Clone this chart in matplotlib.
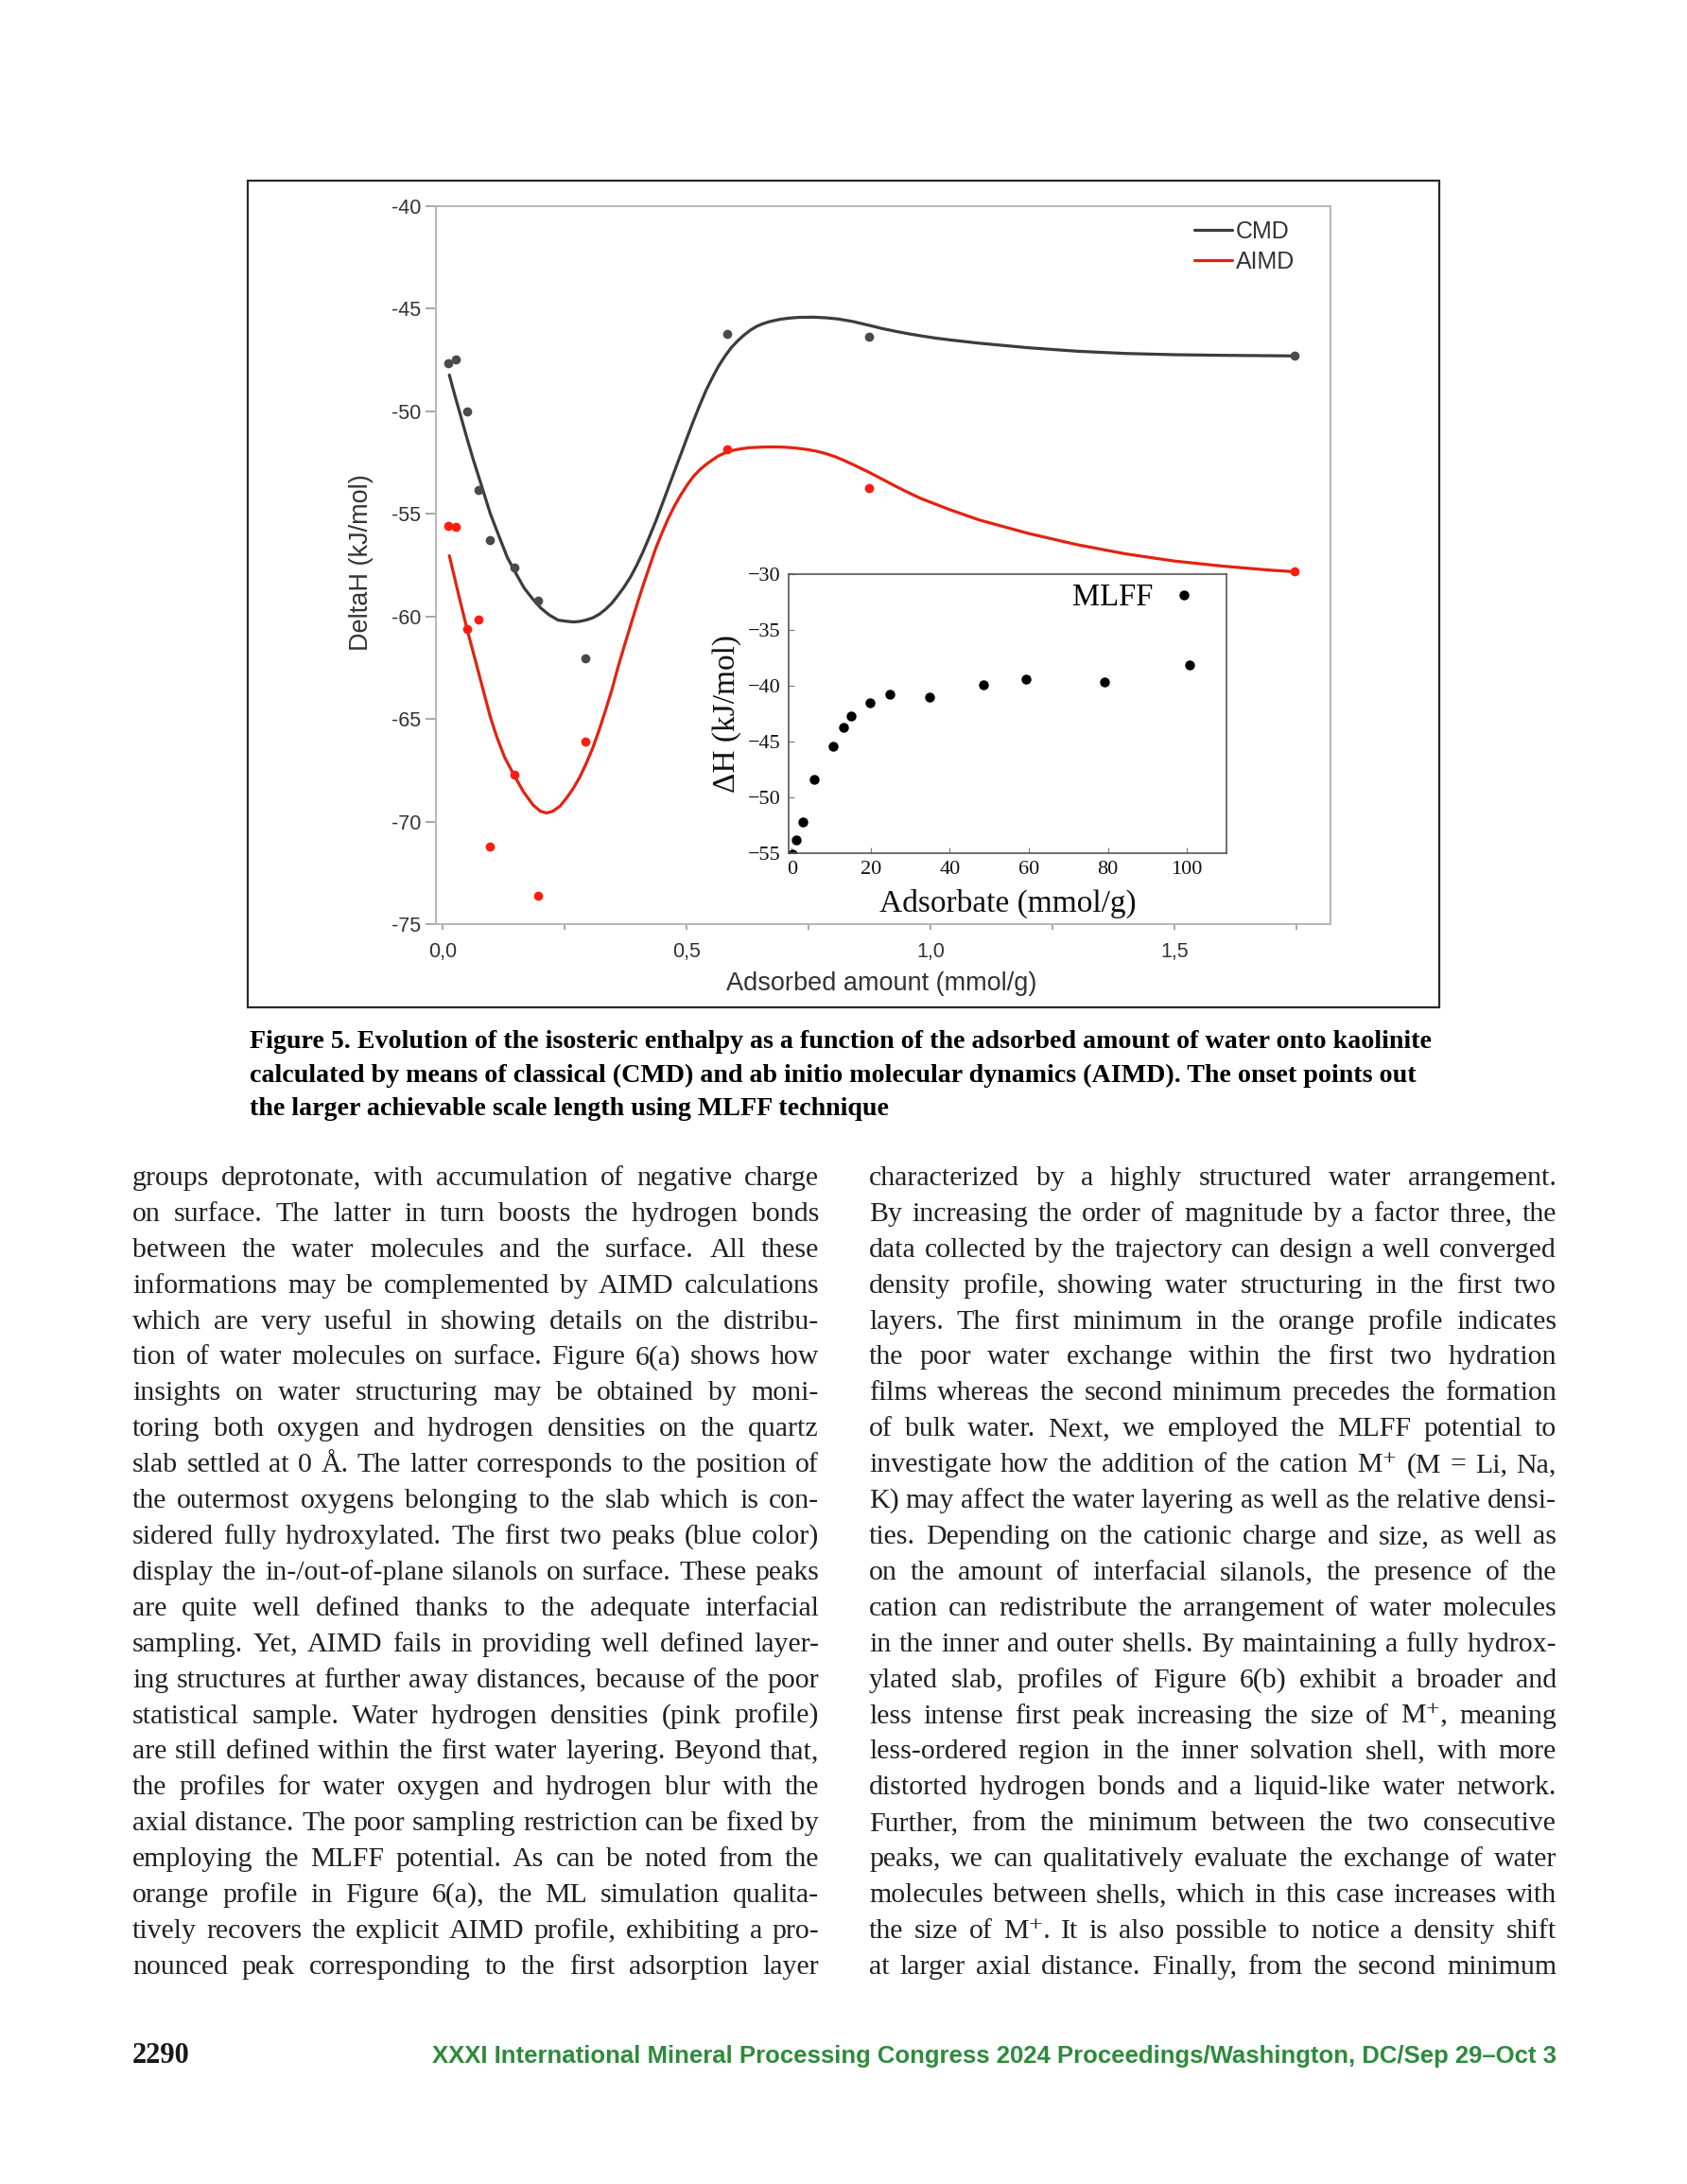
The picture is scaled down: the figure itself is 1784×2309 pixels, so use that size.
import matplotlib
matplotlib.use("Agg")
import matplotlib.pyplot as plt
from matplotlib import font_manager
from matplotlib.font_manager import FontProperties
from matplotlib.patches import Rectangle

# ─── Page geometry (pixels) ─────────────────────────────────────────────────
W, H = 1784, 2309
DPI = 100

# ─── Main chart data ────────────────────────────────────────────────────────
cmd_x = [0.0105, 0.026, 0.0495, 0.0737, 0.097, 0.1465, 0.194, 0.292, 0.582, 0.874, 1.747]
cmd_y = [-47.65, -47.49, -50.0, -53.83, -56.27, -57.62, -59.23, -62.03, -46.22, -46.38, -47.3]

aimd_x = [0.0105, 0.026, 0.0495, 0.0737, 0.097, 0.1465, 0.194, 0.292, 0.582, 0.874, 1.747]
aimd_y = [-55.6, -55.65, -60.6, -60.15, -71.2, -67.7, -73.6, -66.1, -51.85, -53.75, -57.8]

# fitted curves
cmd_fit_x = [0.013, 0.024, 0.036, 0.049, 0.062, 0.08, 0.097, 0.115, 0.132, 0.15,
             0.166, 0.184, 0.201, 0.218, 0.236, 0.255, 0.268, 0.281, 0.294, 0.307,
             0.32, 0.333, 0.346, 0.358, 0.371, 0.384, 0.397, 0.41, 0.423, 0.436,
             0.449, 0.462, 0.475, 0.488, 0.501, 0.514, 0.527, 0.54, 0.553, 0.565,
             0.578, 0.591, 0.604, 0.617, 0.63, 0.643, 0.656, 0.669, 0.69, 0.708,
             0.73, 0.759, 0.785, 0.811, 0.84, 0.876, 0.9, 0.928, 0.955, 0.98,
             1.01, 1.04, 1.1, 1.2, 1.3, 1.4, 1.5, 1.6, 1.747]
cmd_fit_y = [-48.23, -49.2, -50.2, -51.3, -52.35, -53.7, -54.99, -56.1, -57.13, -57.92,
             -58.6, -59.15, -59.6, -59.93, -60.18, -60.24, -60.27, -60.24, -60.17, -60.07,
             -59.9, -59.66, -59.36, -59.0, -58.58, -58.1, -57.52, -56.86, -56.13, -55.38,
             -54.56, -53.73, -52.9, -52.08, -51.25, -50.44, -49.67, -48.95, -48.33, -47.8,
             -47.32, -46.9, -46.57, -46.29, -46.05, -45.86, -45.73, -45.63, -45.52, -45.46,
             -45.42, -45.41, -45.44, -45.5, -45.62, -45.82, -45.96, -46.1, -46.22, -46.32,
             -46.43, -46.52, -46.68, -46.9, -47.07, -47.18, -47.24, -47.27, -47.3]

aimd_fit_x = [0.013, 0.032, 0.049, 0.071, 0.097, 0.11, 0.126, 0.146, 0.165, 0.185,
              0.2, 0.212, 0.225, 0.24, 0.255, 0.268, 0.281, 0.294, 0.307, 0.32,
              0.333, 0.346, 0.358, 0.371, 0.384, 0.397, 0.41, 0.423, 0.436, 0.449,
              0.462, 0.475, 0.488, 0.501, 0.514, 0.527, 0.54, 0.553, 0.565, 0.578,
              0.591, 0.61, 0.63, 0.66, 0.69, 0.708, 0.727, 0.746, 0.765, 0.785,
              0.805, 0.824, 0.85, 0.876, 0.9, 0.928, 0.955, 0.98, 1.04, 1.1,
              1.2, 1.3, 1.4, 1.5, 1.6, 1.7, 1.747]
aimd_fit_y = [-57.04, -58.94, -60.59, -62.56, -64.9, -65.85, -66.85, -67.75, -68.55, -69.2,
              -69.5, -69.58, -69.5, -69.25, -68.8, -68.35, -67.81, -67.15, -66.42, -65.55,
              -64.6, -63.6, -62.55, -61.5, -60.49, -59.48, -58.51, -57.6, -56.7, -55.93,
              -55.22, -54.6, -54.06, -53.58, -53.16, -52.84, -52.58, -52.36, -52.17, -52.03,
              -51.92, -51.83, -51.77, -51.74, -51.74, -51.76, -51.8, -51.86, -51.94, -52.06,
              -52.22, -52.41, -52.7, -53.0, -53.3, -53.65, -53.97, -54.25, -54.8, -55.3,
              -55.95, -56.5, -56.95, -57.3, -57.55, -57.75, -57.82]

x_ticks = [0.0, 0.5, 1.0, 1.5]
x_tick_labels = ["0,0", "0,5", "1,0", "1,5"]
x_minor = [0.25, 0.75, 1.25, 1.75]
y_ticks = [-40, -45, -50, -55, -60, -65, -70, -75]
y_tick_labels = ["-40", "-45", "-50", "-55", "-60", "-65", "-70", "-75"]

# ─── Inset (MLFF) data ──────────────────────────────────────────────────────
mlff_x = [0.2, 1.1, 2.9, 5.7, 10.5, 13.1, 14.9, 19.8, 24.8, 34.9, 48.6, 59.3, 79.1, 100.7]
mlff_y = [-55.1, -53.8, -52.2, -48.4, -45.4, -43.7, -42.7, -41.5, -40.8, -41.0,
          -39.9, -39.4, -39.7, -38.1]
inset_x_ticks = [0, 20, 40, 60, 80, 100]
inset_y_ticks = [-30, -35, -40, -45, -50, -55]

# ─── Page text ──────────────────────────────────────────────────────────────
CAPTION_LINES = [
    "Figure 5. Evolution of the isosteric enthalpy as a function of the adsorbed amount of water onto kaolinite",
    "calculated by means of classical (CMD) and ab initio molecular dynamics (AIMD). The onset points out",
    "the larger achievable scale length using MLFF technique",
]

COL1_LINES = [
    "groups deprotonate, with accumulation of negative charge",
    "on surface. The latter in turn boosts the hydrogen bonds",
    "between the water molecules and the surface. All these",
    "informations may be complemented by AIMD calculations",
    "which are very useful in showing details on the distribu-",
    "tion of water molecules on surface. Figure 6(a) shows how",
    "insights on water structuring may be obtained by moni-",
    "toring both oxygen and hydrogen densities on the quartz",
    "slab settled at 0 Å. The latter corresponds to the position of",
    "the outermost oxygens belonging to the slab which is con-",
    "sidered fully hydroxylated. The first two peaks (blue color)",
    "display the in-/out-of-plane silanols on surface. These peaks",
    "are quite well defined thanks to the adequate interfacial",
    "sampling. Yet, AIMD fails in providing well defined layer-",
    "ing structures at further away distances, because of the poor",
    "statistical sample. Water hydrogen densities (pink profile)",
    "are still defined within the first water layering. Beyond that,",
    "the profiles for water oxygen and hydrogen blur with the",
    "axial distance. The poor sampling restriction can be fixed by",
    "employing the MLFF potential. As can be noted from the",
    "orange profile in Figure 6(a), the ML simulation qualita-",
    "tively recovers the explicit AIMD profile, exhibiting a pro-",
    "nounced peak corresponding to the first adsorption layer",
]

COL2_LINES = [
    "characterized by a highly structured water arrangement.",
    "By increasing the order of magnitude by a factor three, the",
    "data collected by the trajectory can design a well converged",
    "density profile, showing water structuring in the first two",
    "layers. The first minimum in the orange profile indicates",
    "the poor water exchange within the first two hydration",
    "films whereas the second minimum precedes the formation",
    "of bulk water. Next, we employed the MLFF potential to",
    "investigate how the addition of the cation M\u207a (M = Li, Na,",
    "K) may affect the water layering as well as the relative densi-",
    "ties. Depending on the cationic charge and size, as well as",
    "on the amount of interfacial silanols, the presence of the",
    "cation can redistribute the arrangement of water molecules",
    "in the inner and outer shells. By maintaining a fully hydrox-",
    "ylated slab, profiles of Figure 6(b) exhibit a broader and",
    "less intense first peak increasing the size of M\u207a, meaning",
    "less-ordered region in the inner solvation shell, with more",
    "distorted hydrogen bonds and a liquid-like water network.",
    "Further, from the minimum between the two consecutive",
    "peaks, we can qualitatively evaluate the exchange of water",
    "molecules between shells, which in this case increases with",
    "the size of M\u207a. It is also possible to notice a density shift",
    "at larger axial distance. Finally, from the second minimum",
]

PAGE_NUMBER = "2290"
FOOTER = "XXXI International Mineral Processing Congress 2024 Proceedings/Washington, DC/Sep 29\u2013Oct 3"

# ─── Fonts / colours ────────────────────────────────────────────────────────
SANS = ["Liberation Sans", "DejaVu Sans"]
SERIF = ["Liberation Serif", "DejaVu Serif"]
try:
    font_manager.findfont(FontProperties(family="Liberation Sans Narrow"),
                          fallback_to_default=False)
    NARROW = ["Liberation Sans Narrow", "Liberation Sans", "DejaVu Sans"]
except ValueError:
    NARROW = SANS

CMD_COLOR = "#3c3c3c"
CMD_DOT = "#4a4a4a"
AIMD_COLOR = "#e3220f"
AIMD_DOT = "#ff1c12"
AXIS_TEXT = "#333333"
BODY_COLOR = "#231f20"
GREEN = "#2e8b3c"


def fx(px):
    return px / W


def fy(py):
    return 1 - py / H


def box(left, top, right, bottom):
    return [fx(left), fy(bottom), (right - left) / W, (bottom - top) / H]


fig = plt.figure(figsize=(W / DPI, H / DPI), dpi=DPI)
renderer = fig.canvas.get_renderer()


def text_width(s, fp):
    return renderer.get_text_width_height_descent(s, fp, ismath=False)[0]


# ─── Outer frame around the figure ──────────────────────────────────────────
fig.patches.append(Rectangle((fx(262), fy(1065)), (1522 - 262) / W, (1065 - 191) / H,
                             transform=fig.transFigure, fill=False,
                             edgecolor="#2a2a2a", linewidth=1.6))

# ─── Main axes ──────────────────────────────────────────────────────────────
ax = fig.add_axes(box(461, 218, 1407, 977))
ax.plot(cmd_fit_x, cmd_fit_y, color=CMD_COLOR, lw=2.3, solid_capstyle="round",
        solid_joinstyle="round", label="CMD", zorder=3)
ax.plot(aimd_fit_x, aimd_fit_y, color=AIMD_COLOR, lw=2.3, solid_capstyle="round",
        solid_joinstyle="round", label="AIMD", zorder=3)
ax.plot(cmd_x, cmd_y, "o", color=CMD_DOT, ms=7, mew=0, zorder=4)
ax.plot(aimd_x, aimd_y, "o", color=AIMD_DOT, ms=7, mew=0, zorder=4)

ax.set_xlim(-0.0145, 1.82)
ax.set_ylim(-75, -40)
ax.set_xticks(x_ticks)
ax.set_xticklabels(x_tick_labels)
ax.set_xticks(x_minor, minor=True)
ax.set_yticks(y_ticks)
ax.set_yticklabels(y_tick_labels)
for sp in ax.spines.values():
    sp.set_color("#b5b5b5")
    sp.set_linewidth(1.4)
ax.tick_params(axis="y", direction="out", length=7.9, width=1.2, color="#9a9a9a",
               pad=3.6, labelsize=15.5, labelcolor=AXIS_TEXT)
ax.tick_params(axis="x", which="both", direction="out", length=4.5, width=1.2,
               color="#9a9a9a", pad=9, labelsize=15.5, labelcolor=AXIS_TEXT)
for lab in ax.get_xticklabels() + ax.get_yticklabels():
    lab.set_family(SANS)

ax.set_xlabel("Adsorbed amount (mmol/g)", fontsize=19.5, color=AXIS_TEXT, family=SANS)
ax.set_ylabel("DeltaH (kJ/mol)", fontsize=19.5, color=AXIS_TEXT, family=SANS)
ax.xaxis.set_label_coords((932 - 461) / 946, (977 - 1040) / 759)
ax.xaxis.label.set_va("center")
ax.yaxis.set_label_coords((382 - 461) / 946, (977 - 595) / 759)
ax.yaxis.label.set_va("center")

leg = ax.legend(loc="upper left", bbox_to_anchor=(fx(1263), fy(233)),
                bbox_transform=fig.transFigure, frameon=False, borderpad=0,
                borderaxespad=0, handlelength=1.6, handletextpad=0.15,
                labelspacing=0.3, prop=FontProperties(family=SANS, size=18))
for t in leg.get_texts():
    t.set_color(AXIS_TEXT)

# ─── Inset (MLFF) ───────────────────────────────────────────────────────────
ins = fig.add_axes(box(834, 607, 1297, 902))
ins.set_facecolor("white")
ins.plot(mlff_x, mlff_y, "o", color="black", ms=7.5, mew=0, label="MLFF")
ins.set_xlim(-0.8, 110)
ins.set_ylim(-55, -30)
ins.set_xticks(inset_x_ticks)
ins.set_yticks(inset_y_ticks)
ins.set_yticklabels(["\u2212%d" % abs(v) for v in inset_y_ticks])
for sp in ins.spines.values():
    sp.set_color("#555555")
    sp.set_linewidth(1.2)
ins.tick_params(direction="in", length=4, width=0.8, color="#777777", pad=6,
                labelsize=16, labelcolor="#111111")
for lab in ins.get_xticklabels() + ins.get_yticklabels():
    lab.set_family(SERIF)
ins.set_xlabel("Adsorbate (mmol/g)", fontsize=24, family=SERIF, color="#111111")
ins.set_ylabel("\u0394H (kJ/mol)", fontsize=24, family=SERIF, color="#111111")
ins.xaxis.set_label_coords(0.5, (902 - 955) / 295)
ins.xaxis.label.set_va("center")
ins.yaxis.set_label_coords((769 - 834) / 463, 0.5)
ins.yaxis.label.set_va("center")
ins.legend(loc="upper right", bbox_to_anchor=(fx(1268), fy(617)),
           bbox_transform=fig.transFigure, frameon=False, markerfirst=False,
           borderpad=0, borderaxespad=0, handlelength=1.0, handletextpad=0.5,
           prop=FontProperties(family=SERIF, size=23.5))

# ─── Caption ────────────────────────────────────────────────────────────────
cap_fp = FontProperties(family=SERIF, weight="bold", size=20)
cap_size = 20 * 1248 / text_width(CAPTION_LINES[0], cap_fp)
cap_fp = FontProperties(family=SERIF, weight="bold", size=cap_size)
for i, line in enumerate(CAPTION_LINES):
    fig.text(fx(264), fy(1108 + i * 35.5), line, fontproperties=cap_fp,
             color="black", ha="left", va="baseline")


# ─── Justified body text ────────────────────────────────────────────────────
def body_size(columns, col_w, base=20.0, min_space=0.2):
    fp = FontProperties(family=SERIF, size=base)
    px = base * DPI / 72
    best = 99.0
    for lines in columns:
        for line in lines:
            words = line.split()
            need = sum(text_width(w, fp) for w in words) + (len(words) - 1) * min_space * px
            best = min(best, col_w / need)
    return min(base * best, 21.5)


def draw_justified(lines, x0, x1, base_y, dy, fp):
    for i, line in enumerate(lines):
        words = line.split()
        widths = [text_width(w, fp) for w in words]
        gap = (x1 - x0 - sum(widths)) / (len(words) - 1)
        x = x0
        y = base_y + i * dy
        for word, wd in zip(words, widths):
            fig.text(fx(x), fy(y), word, fontproperties=fp, color=BODY_COLOR,
                     ha="left", va="baseline")
            x += wd + gap


size = body_size([COL1_LINES, COL2_LINES], 726)
body_fp = FontProperties(family=SERIF, size=size)
draw_justified(COL1_LINES, 140, 866, 1253, 37.9, body_fp)
draw_justified(COL2_LINES, 919, 1646, 1253, 37.9, body_fp)

# ─── Footer ─────────────────────────────────────────────────────────────────
fig.text(fx(140), fy(2181), PAGE_NUMBER, family=SERIF, weight="bold", size=22,
         color="#1a1a1a", ha="left", va="baseline")
foot_fp = FontProperties(family=NARROW, weight="bold", size=20)
foot_size = 20 * 1192 / text_width(FOOTER, foot_fp)
fig.text(fx(1646), fy(2181), FOOTER, family=NARROW, weight="bold", size=foot_size,
         color=GREEN, ha="right", va="baseline")

fig.savefig("out.png", dpi=DPI)
